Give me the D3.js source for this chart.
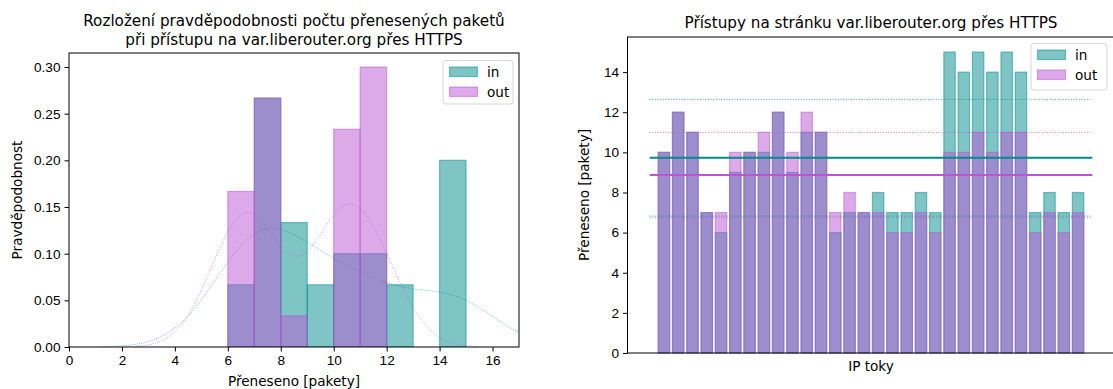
<!DOCTYPE html>
<html>
<head>
<meta charset="utf-8">
<script src="https://cdn.jsdelivr.net/npm/d3@7"></script>
<style>
  body { margin: 0; background: #fff; }
  svg { display: block; font-family: "DejaVu Sans", sans-serif; }
  .tick text { font-size: 13.6px; fill: #000; }
  .tick line { stroke: #000; stroke-width: 1; }
</style>
</head>
<body>
<svg id="chart" width="1113" height="389"></svg>
<script>
// Packets per IP flow (30 flows), inbound and outbound direction
const packetsIn  = [10, 12, 11, 7, 6, 9, 10, 10, 12, 9, 11, 11, 6, 7, 7, 8, 7, 7, 8, 7, 15, 14, 15, 14, 15, 14, 7, 8, 7, 8];
const packetsOut = [10, 12, 11, 7, 7, 10, 10, 11, 12, 10, 12, 11, 7, 8, 7, 7, 6, 6, 7, 6, 10, 10, 11, 10, 11, 11, 6, 7, 6, 7];

// Histogram bin edges (unit-width bins)
const binEdgesIn  = [6, 7, 8, 9, 10, 11, 12, 13, 14, 15];
const binEdgesOut = [6, 7, 8, 9, 10, 11, 12];

// Tick labels
const histXTicks  = [0, 2, 4, 6, 8, 10, 12, 14, 16];
const histYTicks  = [0, 0.05, 0.10, 0.15, 0.20, 0.25, 0.30];
const flowsYTicks = [0, 2, 4, 6, 8, 10, 12, 14];

const seriesNames = ["in", "out"];

const COL_IN = "#008b8b";   // darkcyan
const COL_OUT = "#ba55d3";  // mediumorchid
const LABEL_SIZE = 13.6;
const TITLE_SIZE = 15.2;

const svg = d3.select("#chart");

// ---------- helpers ----------
function mean(a) { return d3.mean(a); }
function popStd(a) {
  const m = mean(a);
  return Math.sqrt(d3.mean(a, v => (v - m) * (v - m)));
}
// Scott's rule bandwidth, as in statsmodels (min of std and IQR/1.349)
function scottBw(a) {
  const s = d3.deviation(a);
  const sorted = a.slice().sort(d3.ascending);
  const iqr = d3.quantileSorted(sorted, 0.75) - d3.quantileSorted(sorted, 0.25);
  const A = Math.min(s, iqr / 1.349);
  return 1.059 * A * Math.pow(a.length, -0.2);
}
function kde(a, gridsize = 100, cut = 3) {
  const bw = scottBw(a);
  const lo = d3.min(a) - cut * bw, hi = d3.max(a) + cut * bw;
  const norm = 1 / (a.length * bw * Math.sqrt(2 * Math.PI));
  return d3.range(gridsize).map(i => {
    const x = lo + (hi - lo) * i / (gridsize - 1);
    const y = d3.sum(a, v => Math.exp(-0.5 * ((x - v) / bw) ** 2)) * norm;
    return [x, y];
  });
}
function frame(g, x0, y0, w, h) {
  g.append("rect").attr("x", x0).attr("y", y0).attr("width", w).attr("height", h)
    .attr("fill", "none").attr("stroke", "#000").attr("stroke-width", 1);
}
function legend(g, x, y, w, h) {
  g.append("rect").attr("x", x).attr("y", y).attr("width", w).attr("height", h)
    .attr("rx", 3).attr("fill", "#fff").attr("fill-opacity", 0.8)
    .attr("stroke", "#d6d6d6").attr("stroke-width", 1);
  [COL_IN, COL_OUT].forEach((c, i) => {
    g.append("rect").attr("x", x + 6.5).attr("y", y + 6.5 + i * 20).attr("width", 28).attr("height", 9.5)
      .attr("fill", c).attr("fill-opacity", 0.5).attr("stroke", c).attr("stroke-opacity", 0.5).attr("stroke-width", 1.2);
    g.append("text").attr("x", x + 44).attr("y", y + 16.5 + i * 20)
      .attr("font-size", LABEL_SIZE).text(seriesNames[i]);
  });
}

// ---------- left: histogram + KDE ----------
{
  const L = 69, R = 519, T = 53, B = 347;
  const x = d3.scaleLinear().domain([0, 17]).range([L, R]);
  const y = d3.scaleLinear().domain([0, 0.315]).range([B, T]);
  const g = svg.append("g");

  g.append("clipPath").attr("id", "clipL").append("rect")
    .attr("x", L).attr("y", T).attr("width", R - L).attr("height", B - T);
  const plot = g.append("g").attr("clip-path", "url(#clipL)");

  function drawHist(values, edges, color) {
    const bins = d3.bin().domain([edges[0], edges[edges.length - 1]])
      .thresholds(edges.slice(1, -1))(values);
    plot.append("g").selectAll("rect").data(bins).join("rect")
      .attr("x", d => x(d.x0)).attr("width", d => x(d.x1) - x(d.x0))
      .attr("y", d => y(d.length / (values.length * (d.x1 - d.x0))))
      .attr("height", d => y(0) - y(d.length / (values.length * (d.x1 - d.x0))))
      .attr("fill", color).attr("fill-opacity", 0.5)
      .attr("stroke", color).attr("stroke-opacity", 0.5).attr("stroke-width", 1.2)
      .style("display", d => d.length ? null : "none");
  }
  function drawKde(values, color) {
    plot.append("path").datum(kde(values))
      .attr("d", d3.line().x(d => x(d[0])).y(d => y(d[1])))
      .attr("fill", "none").attr("stroke", color).attr("stroke-opacity", 0.6)
      .attr("stroke-width", 0.9).attr("stroke-dasharray", "1,1.2");
  }
  drawHist(packetsIn, binEdgesIn, COL_IN);
  drawKde(packetsIn, COL_IN);
  drawHist(packetsOut, binEdgesOut, COL_OUT);
  drawKde(packetsOut, COL_OUT);

  const ax = g.append("g").attr("transform", `translate(0,${B})`)
    .call(d3.axisBottom(x).tickValues(histXTicks).tickSize(4.5).tickPadding(4).tickFormat(d3.format("d")));
  ax.select(".domain").remove();
  const ay = g.append("g").attr("transform", `translate(${L},0)`)
    .call(d3.axisLeft(y).tickValues(histYTicks).tickSize(4.5).tickPadding(4).tickFormat(d3.format(".2f")));
  ay.select(".domain").remove();
  frame(g, L, T, R - L, B - T);

  g.append("text").attr("x", (L + R) / 2).attr("y", 386).attr("text-anchor", "middle")
    .attr("font-size", LABEL_SIZE).text("Přeneseno [pakety]");
  g.append("text").attr("transform", `translate(22,${(T + B) / 2}) rotate(-90)`)
    .attr("text-anchor", "middle").attr("font-size", LABEL_SIZE).text("Pravděpodobnost");
  g.append("text").attr("x", (L + R) / 2).attr("y", 26).attr("text-anchor", "middle")
    .attr("font-size", TITLE_SIZE).text("Rozložení pravděpodobnosti počtu přenesených paketů");
  g.append("text").attr("x", (L + R) / 2).attr("y", 45).attr("text-anchor", "middle")
    .attr("font-size", TITLE_SIZE).text("při přístupu na var.liberouter.org přes HTTPS");

  legend(g, 443, 60.5, 70, 43.5);
}

// ---------- right: packets per flow ----------
{
  const L = 627.5, R = 1114.5, T = 37, B = 353;
  const idx = d3.range(packetsIn.length);
  const x = d3.scaleLinear().domain([-2.55, 31.55]).range([L, R]);
  const y = d3.scaleLinear().domain([0, 15.75]).range([B, T]);
  const g = svg.append("g");
  const bw = x(0.8) - x(0);

  function drawBars(values, color) {
    g.append("g").selectAll("rect").data(idx).join("rect")
      .attr("x", i => x(i) - bw / 2).attr("width", bw)
      .attr("y", i => y(values[i])).attr("height", i => y(0) - y(values[i]))
      .attr("fill", color).attr("fill-opacity", 0.5)
      .attr("stroke", color).attr("stroke-opacity", 0.5).attr("stroke-width", 1.2);
  }
  drawBars(packetsIn, COL_IN);
  drawBars(packetsOut, COL_OUT);

  function hline(v, color, dotted) {
    g.append("line").attr("x1", x(-1)).attr("x2", x(30)).attr("y1", y(v)).attr("y2", y(v))
      .attr("stroke", color).attr("stroke-width", dotted ? 1 : 2)
      .attr("stroke-opacity", dotted ? 0.75 : 1)
      .attr("stroke-dasharray", dotted ? "1,1.65" : null);
  }
  [[packetsIn, COL_IN], [packetsOut, COL_OUT]].forEach(([vals, c]) => {
    const m = mean(vals), s = popStd(vals);
    hline(m, c, false);
    hline(m + s, c, true);
    hline(m - s, c, true);
  });

  const ay = g.append("g").attr("transform", `translate(${L},0)`)
    .call(d3.axisLeft(y).tickValues(flowsYTicks).tickSize(4.5).tickPadding(4).tickFormat(d3.format("d")));
  ay.select(".domain").remove();
  frame(g, L, T, R - L, B - T);

  g.append("text").attr("x", (L + R) / 2).attr("y", 371).attr("text-anchor", "middle")
    .attr("font-size", LABEL_SIZE).text("IP toky");
  g.append("text").attr("transform", `translate(589,${(T + B) / 2}) rotate(-90)`)
    .attr("text-anchor", "middle").attr("font-size", LABEL_SIZE).text("Přeneseno [pakety]");
  g.append("text").attr("x", (L + R) / 2).attr("y", 28).attr("text-anchor", "middle")
    .attr("font-size", TITLE_SIZE).text("Přístupy na stránku var.liberouter.org přes HTTPS");

  legend(g, 1031, 43.5, 76, 46.5);
}
</script>
</body>
</html>
